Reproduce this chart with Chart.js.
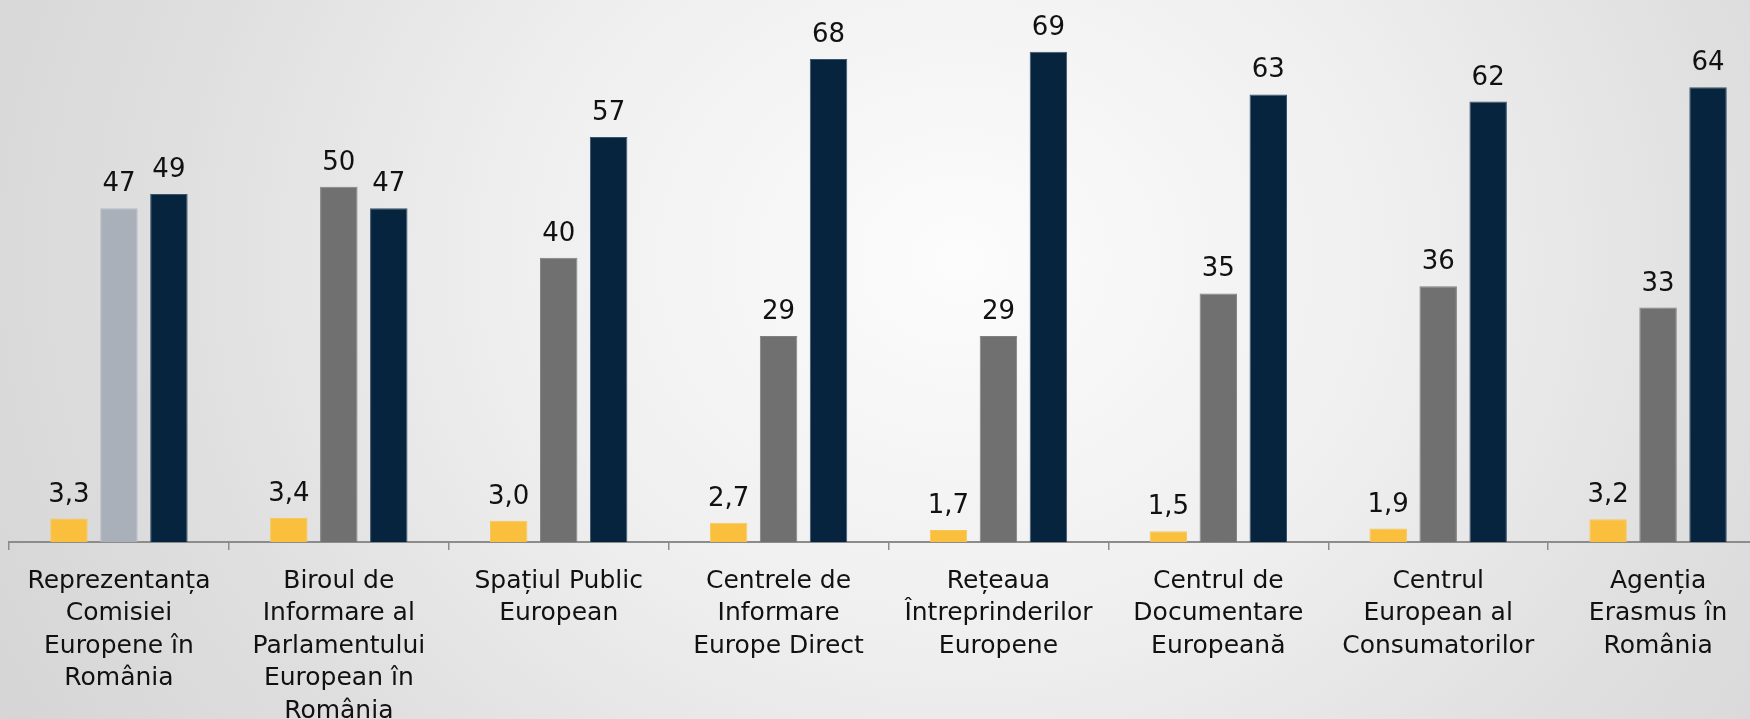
<!DOCTYPE html>
<html>
<head>
<meta charset="utf-8">
<script src="https://cdn.jsdelivr.net/npm/chart.js@4/dist/chart.umd.min.js"></script>
<style>
  html, body { margin: 0; padding: 0; width: 1750px; height: 719px; overflow: hidden; }
  body {
    background: radial-gradient(ellipse 1100px 950px at 960px 260px, #fcfcfc 0%, #efefef 40%, #dfdfdf 72%, #d5d5d5 100%);
  }
  #wrap { position: absolute; left: 0; top: 0; width: 1768px; height: 780px; }
</style>
</head>
<body>
<div id="wrap"><canvas id="c" width="1768" height="780"></canvas></div>
<script>
const categories = [
  ["Reprezentanța", "Comisiei", "Europene în", "România"],
  ["Biroul de", "Informare al", "Parlamentului", "European în", "România"],
  ["Spațiul Public", "European"],
  ["Centrele de", "Informare", "Europe Direct"],
  ["Rețeaua", "Întreprinderilor", "Europene"],
  ["Centrul de", "Documentare", "Europeană"],
  ["Centrul", "European al", "Consumatorilor"],
  ["Agenția", "Erasmus în", "România"]
];
const seriesYellow = [3.3, 3.4, 3.0, 2.7, 1.7, 1.5, 1.9, 3.2];
const seriesGray = [47, 50, 40, 29, 29, 35, 36, 33];
const seriesNavy = [49, 47, 57, 68, 69, 63, 62, 64];
const yMax = 76.3;

const grayColors = seriesGray.map((v, i) => i === 0 ? '#a9b0ba' : '#707070');
const grayBorders = seriesGray.map((v, i) => i === 0 ? '#b6bcc5' : '#808080');

const AXIS_H = 780 - 542;

const valueLabels = {
  id: 'valueLabels',
  afterDatasetsDraw(chart) {
    const ctx = chart.ctx;
    ctx.save();
    ctx.font = '26px "DejaVu Sans", sans-serif';
    ctx.fillStyle = '#111111';
    ctx.textAlign = 'center';
    ctx.textBaseline = 'alphabetic';
    chart.data.datasets.forEach((ds, di) => {
      const meta = chart.getDatasetMeta(di);
      meta.data.forEach((el, i) => {
        const v = ds.data[i];
        const txt = di === 0 ? v.toFixed(1).replace('.', ',') : String(Math.round(v));
        ctx.fillText(txt, el.x, el.y - 17);
      });
    });
    ctx.restore();
  }
};

new Chart(document.getElementById('c'), {
  type: 'bar',
  data: {
    labels: categories,
    datasets: [
      { label: 'Serie 1', data: seriesYellow, backgroundColor: '#fabf3c', borderColor: '#f6c758', borderWidth: 1 },
      { label: 'Serie 2', data: seriesGray, backgroundColor: grayColors, borderColor: grayBorders, borderWidth: 1 },
      { label: 'Serie 3', data: seriesNavy, backgroundColor: '#07243e', borderColor: '#3b546c', borderWidth: 1 }
    ]
  },
  options: {
    responsive: false,
    animation: false,
    devicePixelRatio: 1,
    layout: { padding: { left: 9, right: 0, top: 0, bottom: 0 } },
    datasets: { bar: { categoryPercentage: 150 / 220, barPercentage: 0.75 } },
    plugins: { legend: { display: false }, tooltip: { enabled: false } },
    scales: {
      x: {
        grid: { offset: true, drawOnChartArea: false, drawTicks: true, tickLength: 8, color: '#8c8c8c', lineWidth: 1.5 },
        border: { display: true, color: '#8c8c8c', width: 2 },
        ticks: {
          autoSkip: false, maxRotation: 0, minRotation: 0, padding: 15,
          color: '#111111',
          font: { family: '"DejaVu Sans", sans-serif', size: 25, lineHeight: 1.3 }
        },
        afterFit(scale) { scale.height = AXIS_H; }
      },
      y: { display: false, min: 0, max: yMax }
    }
  },
  plugins: [valueLabels]
});
</script>
</body>
</html>
